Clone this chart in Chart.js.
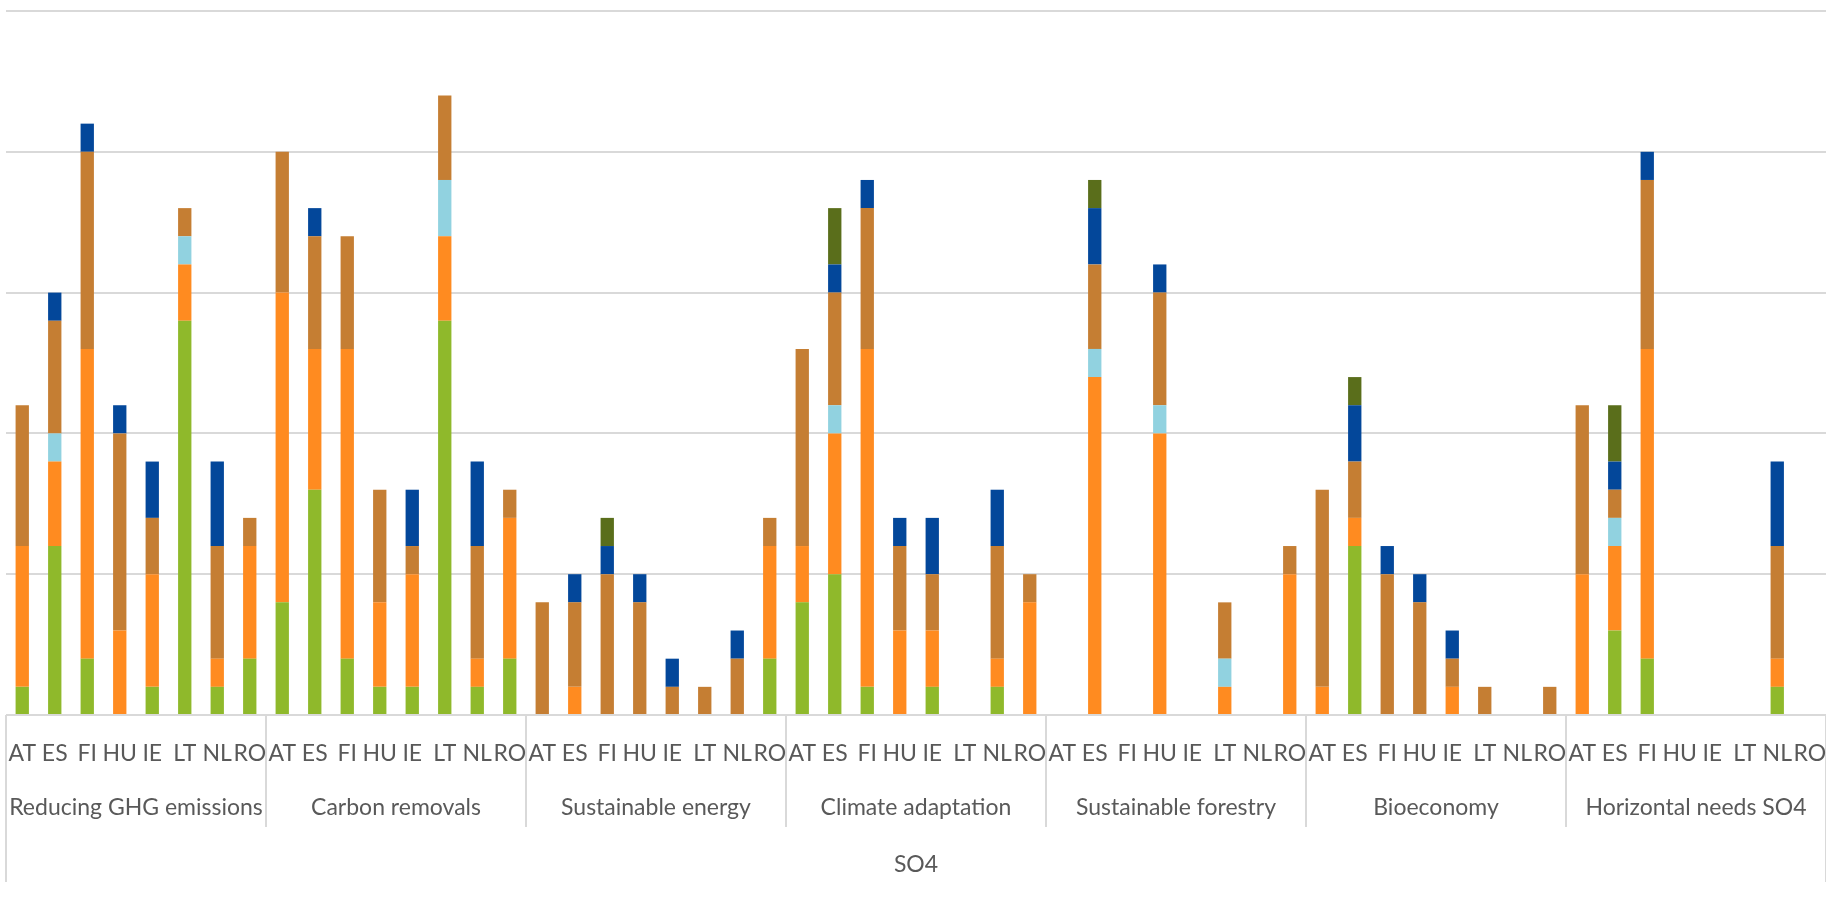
<!DOCTYPE html>
<html>
<head>
<meta charset="utf-8">
<script src="https://cdn.jsdelivr.net/npm/chart.js@4"></script>
<style>
  html, body { margin: 0; padding: 0; background: #ffffff; }
  #wrap { width: 1826px; height: 897px; position: relative; }
</style>
</head>
<body>
<div id="wrap"><canvas id="c"></canvas></div>
<script>
// ---- data ----
const groups = ["Reducing GHG emissions", "Carbon removals", "Sustainable energy", "Climate adaptation", "Sustainable forestry", "Bioeconomy", "Horizontal needs SO4"];
const countries = ["AT", "ES", "FI", "HU", "IE", "LT", "NL", "RO"];
const outerLabel = "SO4";

// values per series, 8 countries per group, groups in order above
const seriesGreen = [
  1, 6, 2, 0, 1, 14, 1, 2,
  4, 8, 2, 1, 1, 14, 1, 2,
  0, 0, 0, 0, 0, 0, 0, 2,
  4, 5, 1, 0, 1, 0, 1, 0,
  0, 0, 0, 0, 0, 0, 0, 0,
  0, 6, 0, 0, 0, 0, 0, 0,
  0, 3, 2, 0, 0, 0, 1, 0
];
const seriesOrange = [
  5, 3, 11, 3, 4, 2, 1, 4,
  11, 5, 11, 3, 4, 3, 1, 5,
  0, 1, 0, 0, 0, 0, 0, 4,
  2, 5, 12, 3, 2, 0, 1, 4,
  0, 12, 0, 10, 0, 1, 0, 5,
  1, 1, 0, 0, 1, 0, 0, 0,
  5, 3, 11, 0, 0, 0, 1, 0
];
const seriesLightBlue = [
  0, 1, 0, 0, 0, 1, 0, 0,
  0, 0, 0, 0, 0, 2, 0, 0,
  0, 0, 0, 0, 0, 0, 0, 0,
  0, 1, 0, 0, 0, 0, 0, 0,
  0, 1, 0, 1, 0, 1, 0, 0,
  0, 0, 0, 0, 0, 0, 0, 0,
  0, 1, 0, 0, 0, 0, 0, 0
];
const seriesBrown = [
  5, 4, 7, 7, 2, 1, 4, 1,
  5, 4, 4, 4, 1, 3, 4, 1,
  4, 3, 5, 4, 1, 1, 2, 1,
  7, 4, 5, 3, 2, 0, 4, 1,
  0, 3, 0, 4, 0, 2, 0, 1,
  7, 2, 5, 4, 1, 1, 0, 1,
  6, 1, 6, 0, 0, 0, 4, 0
];
const seriesDarkBlue = [
  0, 1, 1, 1, 2, 0, 3, 0,
  0, 1, 0, 0, 2, 0, 3, 0,
  0, 1, 1, 1, 1, 0, 1, 0,
  0, 1, 1, 1, 2, 0, 2, 0,
  0, 2, 0, 1, 0, 0, 0, 0,
  0, 2, 1, 1, 1, 0, 0, 0,
  0, 1, 1, 0, 0, 0, 3, 0
];
const seriesDarkGreen = [
  0, 0, 0, 0, 0, 0, 0, 0,
  0, 0, 0, 0, 0, 0, 0, 0,
  0, 0, 1, 0, 0, 0, 0, 0,
  0, 2, 0, 0, 0, 0, 0, 0,
  0, 1, 0, 0, 0, 0, 0, 0,
  0, 1, 0, 0, 0, 0, 0, 0,
  0, 2, 0, 0, 0, 0, 0, 0
];
const yMax = 25;
const yStep = 5;

// ---- chart ----
const labels = [];
groups.forEach(g => countries.forEach(c => labels.push(c)));

const seriesDefs = [
  { label: "Series 1", data: seriesGreen, color: "#8fb92b" },
  { label: "Series 2", data: seriesOrange, color: "#ff8b20" },
  { label: "Series 3", data: seriesLightBlue, color: "#91d2e0" },
  { label: "Series 4", data: seriesBrown, color: "#c57e33" },
  { label: "Series 5", data: seriesDarkBlue, color: "#03479a" },
  { label: "Series 6", data: seriesDarkGreen, color: "#5a6e1b" }
];

const FONT = "23px Lato, 'Liberation Sans', sans-serif";
const TEXT_COLOR = "#595959";
const LINE_COLOR = "#d9d9d9";

const multiAxisPlugin = {
  id: "multiAxis",
  afterDraw(chart) {
    const ctx = chart.ctx;
    const xs = chart.scales.x;
    const area = chart.chartArea;
    const n = labels.length;
    const per = countries.length;
    const step = (xs.getPixelForValue(1) - xs.getPixelForValue(0));
    const left = xs.getPixelForValue(0) - step / 2;
    const base = area.bottom;
    ctx.save();
    // separators
    ctx.strokeStyle = LINE_COLOR;
    ctx.lineWidth = 2;
    for (let g = 0; g <= groups.length; g++) {
      const x = Math.round(left + g * per * step);
      ctx.beginPath();
      ctx.moveTo(x, base);
      ctx.lineTo(x, (g === 0 || g === groups.length) ? base + 167 : base + 112);
      ctx.stroke();
    }
    // labels
    ctx.fillStyle = TEXT_COLOR;
    ctx.font = FONT;
    ctx.textAlign = "center";
    ctx.textBaseline = "middle";
    for (let i = 0; i < n; i++) {
      ctx.fillText(labels[i], xs.getPixelForValue(i), base + 39);
    }
    groups.forEach((g, gi) => {
      const cx = left + (gi * per + per / 2) * step;
      ctx.fillText(g, cx, base + 93);
    });
    ctx.fillText(outerLabel, left + (n / 2) * step, base + 150);
    ctx.restore();
  }
};

new Chart(document.getElementById("c"), {
  type: "bar",
  data: {
    labels: labels,
    datasets: seriesDefs.map(s => ({
      label: s.label,
      data: s.data,
      backgroundColor: s.color,
      borderWidth: 0,
      barPercentage: 0.41,
      categoryPercentage: 1.0
    }))
  },
  options: {
    responsive: true,
    maintainAspectRatio: false,
    animation: false,
    devicePixelRatio: 1,
    layout: { padding: { left: 6, right: 0, top: 11, bottom: 182 } },
    plugins: { legend: { display: false }, tooltip: { enabled: false } },
    scales: {
      x: {
        stacked: true,
        display: false,
        offset: true
      },
      y: {
        stacked: true,
        min: 0,
        max: yMax,
        ticks: { display: false, stepSize: yStep },
        grid: { color: LINE_COLOR, lineWidth: 2, drawTicks: false },
        border: { display: false },
        afterFit(s) { s.width = 0; }
      }
    }
  },
  plugins: [multiAxisPlugin]
});
</script>
</body>
</html>
